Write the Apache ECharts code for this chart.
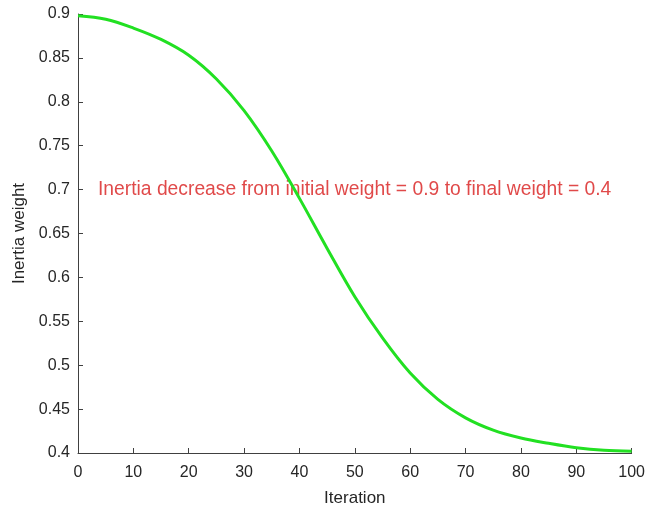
<!DOCTYPE html>
<html>
<head>
<meta charset="utf-8">
<script src="https://cdn.jsdelivr.net/npm/echarts@6/dist/echarts.min.js"></script>
<style>
html,body{margin:0;padding:0;background:#fff;}
#c{width:648px;height:512px;}
</style>
</head>
<body>
<div id="c"></div>
<script>
var iterations = [0, 5, 10, 15, 20, 25, 30, 35, 40, 45, 50, 55, 60, 65, 70, 75, 80, 85, 90, 95, 100];
var weights = [0.898, 0.894, 0.884, 0.871, 0.853, 0.826, 0.790, 0.744, 0.690, 0.633, 0.578, 0.531, 0.491, 0.461, 0.440, 0.426, 0.417, 0.411, 0.406, 0.403, 0.402];
var xTicks = [0, 10, 20, 30, 40, 50, 60, 70, 80, 90, 100];
var yTicks = [0.4, 0.45, 0.5, 0.55, 0.6, 0.65, 0.7, 0.75, 0.8, 0.85, 0.9];
var annotationText = 'Inertia decrease from initial weight = 0.9 to final weight = 0.4';
var annotationPos = [3.6, 0.7];

var chart = echarts.init(document.getElementById('c'));
var font = '"Liberation Sans", Arial, Helvetica, sans-serif';
var axisColor = '#404040';
chart.setOption({
  animation: false,
  backgroundColor: '#fff',
  grid: {left: 78, right: 10, top: 14, bottom: 57, containLabel: false},
  xAxis: {
    type: 'value', min: xTicks[0], max: xTicks[xTicks.length - 1], interval: 10,
    name: 'Iteration', nameLocation: 'middle', nameGap: 37,
    nameTextStyle: {fontFamily: font, fontSize: 17, color: '#262626'},
    axisLine: {show: true, onZero: false, lineStyle: {color: axisColor, width: 1}},
    axisTick: {show: true, inside: true, length: 5, lineStyle: {color: axisColor}},
    axisLabel: {fontFamily: font, fontSize: 16, color: '#262626', margin: 12},
    splitLine: {show: false}
  },
  yAxis: {
    type: 'value', min: yTicks[0], max: yTicks[yTicks.length - 1], interval: 0.05,
    name: 'Inertia weight', nameLocation: 'middle', nameGap: 49,
    nameTextStyle: {fontFamily: font, fontSize: 17, color: '#262626'},
    axisLine: {show: true, onZero: false, lineStyle: {color: axisColor, width: 1}},
    axisTick: {show: true, inside: true, length: 5, lineStyle: {color: axisColor}},
    axisLabel: {fontFamily: font, fontSize: 16, color: '#262626', margin: 8,
      formatter: function (v) { return String(Math.round(v * 100) / 100); }},
    splitLine: {show: false}
  },
  series: [
    {
      type: 'line',
      data: iterations.map(function (x, i) { return [x, weights[i]]; }),
      smooth: 0.35,
      showSymbol: false,
      lineStyle: {color: '#22e022', width: 3},
      z: 3
    },
    {
      type: 'scatter',
      data: [annotationPos],
      symbolSize: 0,
      silent: true,
      label: {
        show: true, position: 'right', distance: 0,
        formatter: annotationText,
        fontFamily: font, fontSize: 19.3, color: '#d81c1c'
      },
      z: 2
    }
  ]
});
</script>
</body>
</html>
